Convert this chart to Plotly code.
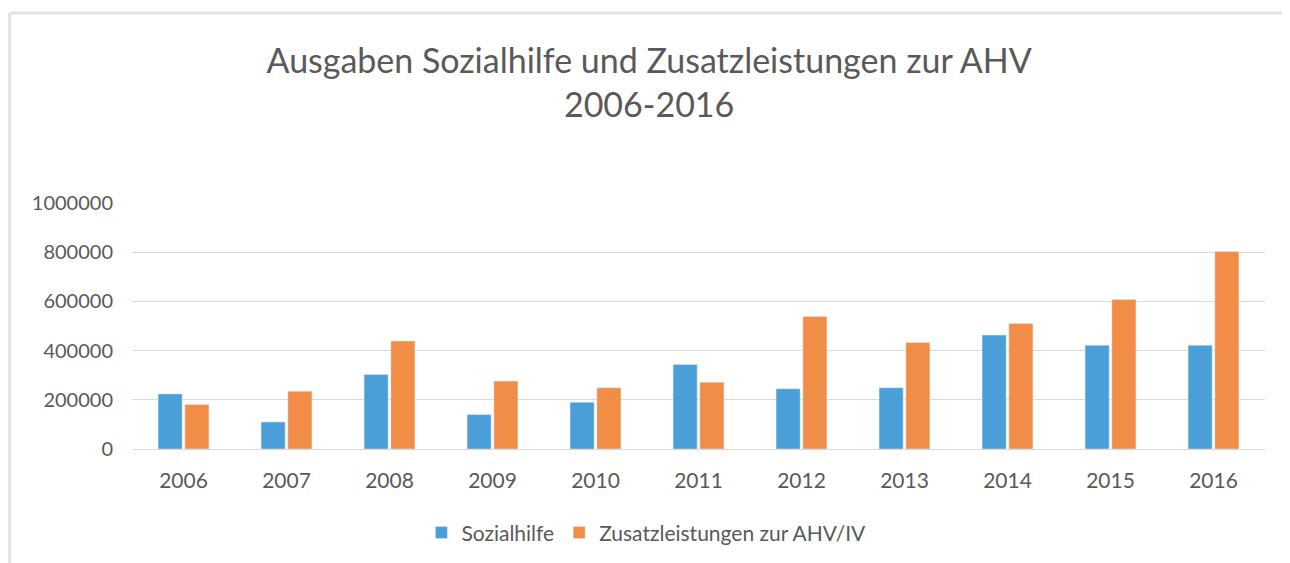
import plotly.graph_objects as go

years = ["2006", "2007", "2008", "2009", "2010", "2011", "2012", "2013", "2014", "2015", "2016"]
sozialhilfe = [224000, 110000, 303000, 140000, 190000, 344000, 245000, 249000, 463000, 422000, 422000]
zusatzleistungen = [181000, 235000, 439000, 276000, 249000, 271000, 539000, 433000, 510000, 608000, 803000]
y_ticks = [0, 200000, 400000, 600000, 800000, 1000000]

FONT = "Lato, Carlito, 'Open Sans', sans-serif"
GRAY = "#595959"

fig = go.Figure()
fig.add_trace(go.Bar(x=years, y=sozialhilfe, name="Sozialhilfe", marker_color="#4a9fd8"))
fig.add_trace(go.Bar(x=years, y=zusatzleistungen, name="Zusatzleistungen zur AHV/IV", marker_color="#f18d47"))

fig.update_layout(
    width=1290, height=563,
    paper_bgcolor="white", plot_bgcolor="white",
    margin=dict(l=124, r=33, t=195, b=122),
    barmode="group", bargap=0.48, bargroupgap=0.1,
    title=dict(text="Ausgaben Sozialhilfe und Zusatzleistungen zur AHV<br>2006-2016",
               x=0.497, xref="container", xanchor="center",
               y=0.885, yref="container", yanchor="middle",
               font=dict(family=FONT, size=34, color=GRAY)),
    font=dict(family=FONT, color=GRAY, size=20),
    legend=dict(orientation="h", x=0.454, xanchor="center", y=-0.341, yanchor="middle",
                font=dict(size=21, color=GRAY), itemwidth=30, traceorder="normal"),
    showlegend=True,
)
fig.update_yaxes(range=[0, 1000000], tickvals=y_ticks, ticktext=[str(v) for v in y_ticks],
                 showgrid=True, gridcolor="#d9d9d9", gridwidth=1, zeroline=True,
                 zerolinecolor="#d9d9d9", zerolinewidth=1, showline=False,
                 tickfont=dict(size=20, color=GRAY), ticklabelstandoff=18)
fig.update_xaxes(showgrid=False, showline=False, tickfont=dict(size=21, color=GRAY),
                 ticklabelstandoff=17)

# light frame around the chart (left and top edges visible)
fig.add_shape(type="line", xref="paper", yref="paper", x0=-0.108, x1=-0.108, y0=-0.6, y1=1.772,
              line=dict(color="#e2e2e2", width=3))
fig.add_shape(type="line", xref="paper", yref="paper", x0=-0.108, x1=1.05, y0=1.772, y1=1.772,
              line=dict(color="#e2e2e2", width=3))

fig.write_html("out.html")
